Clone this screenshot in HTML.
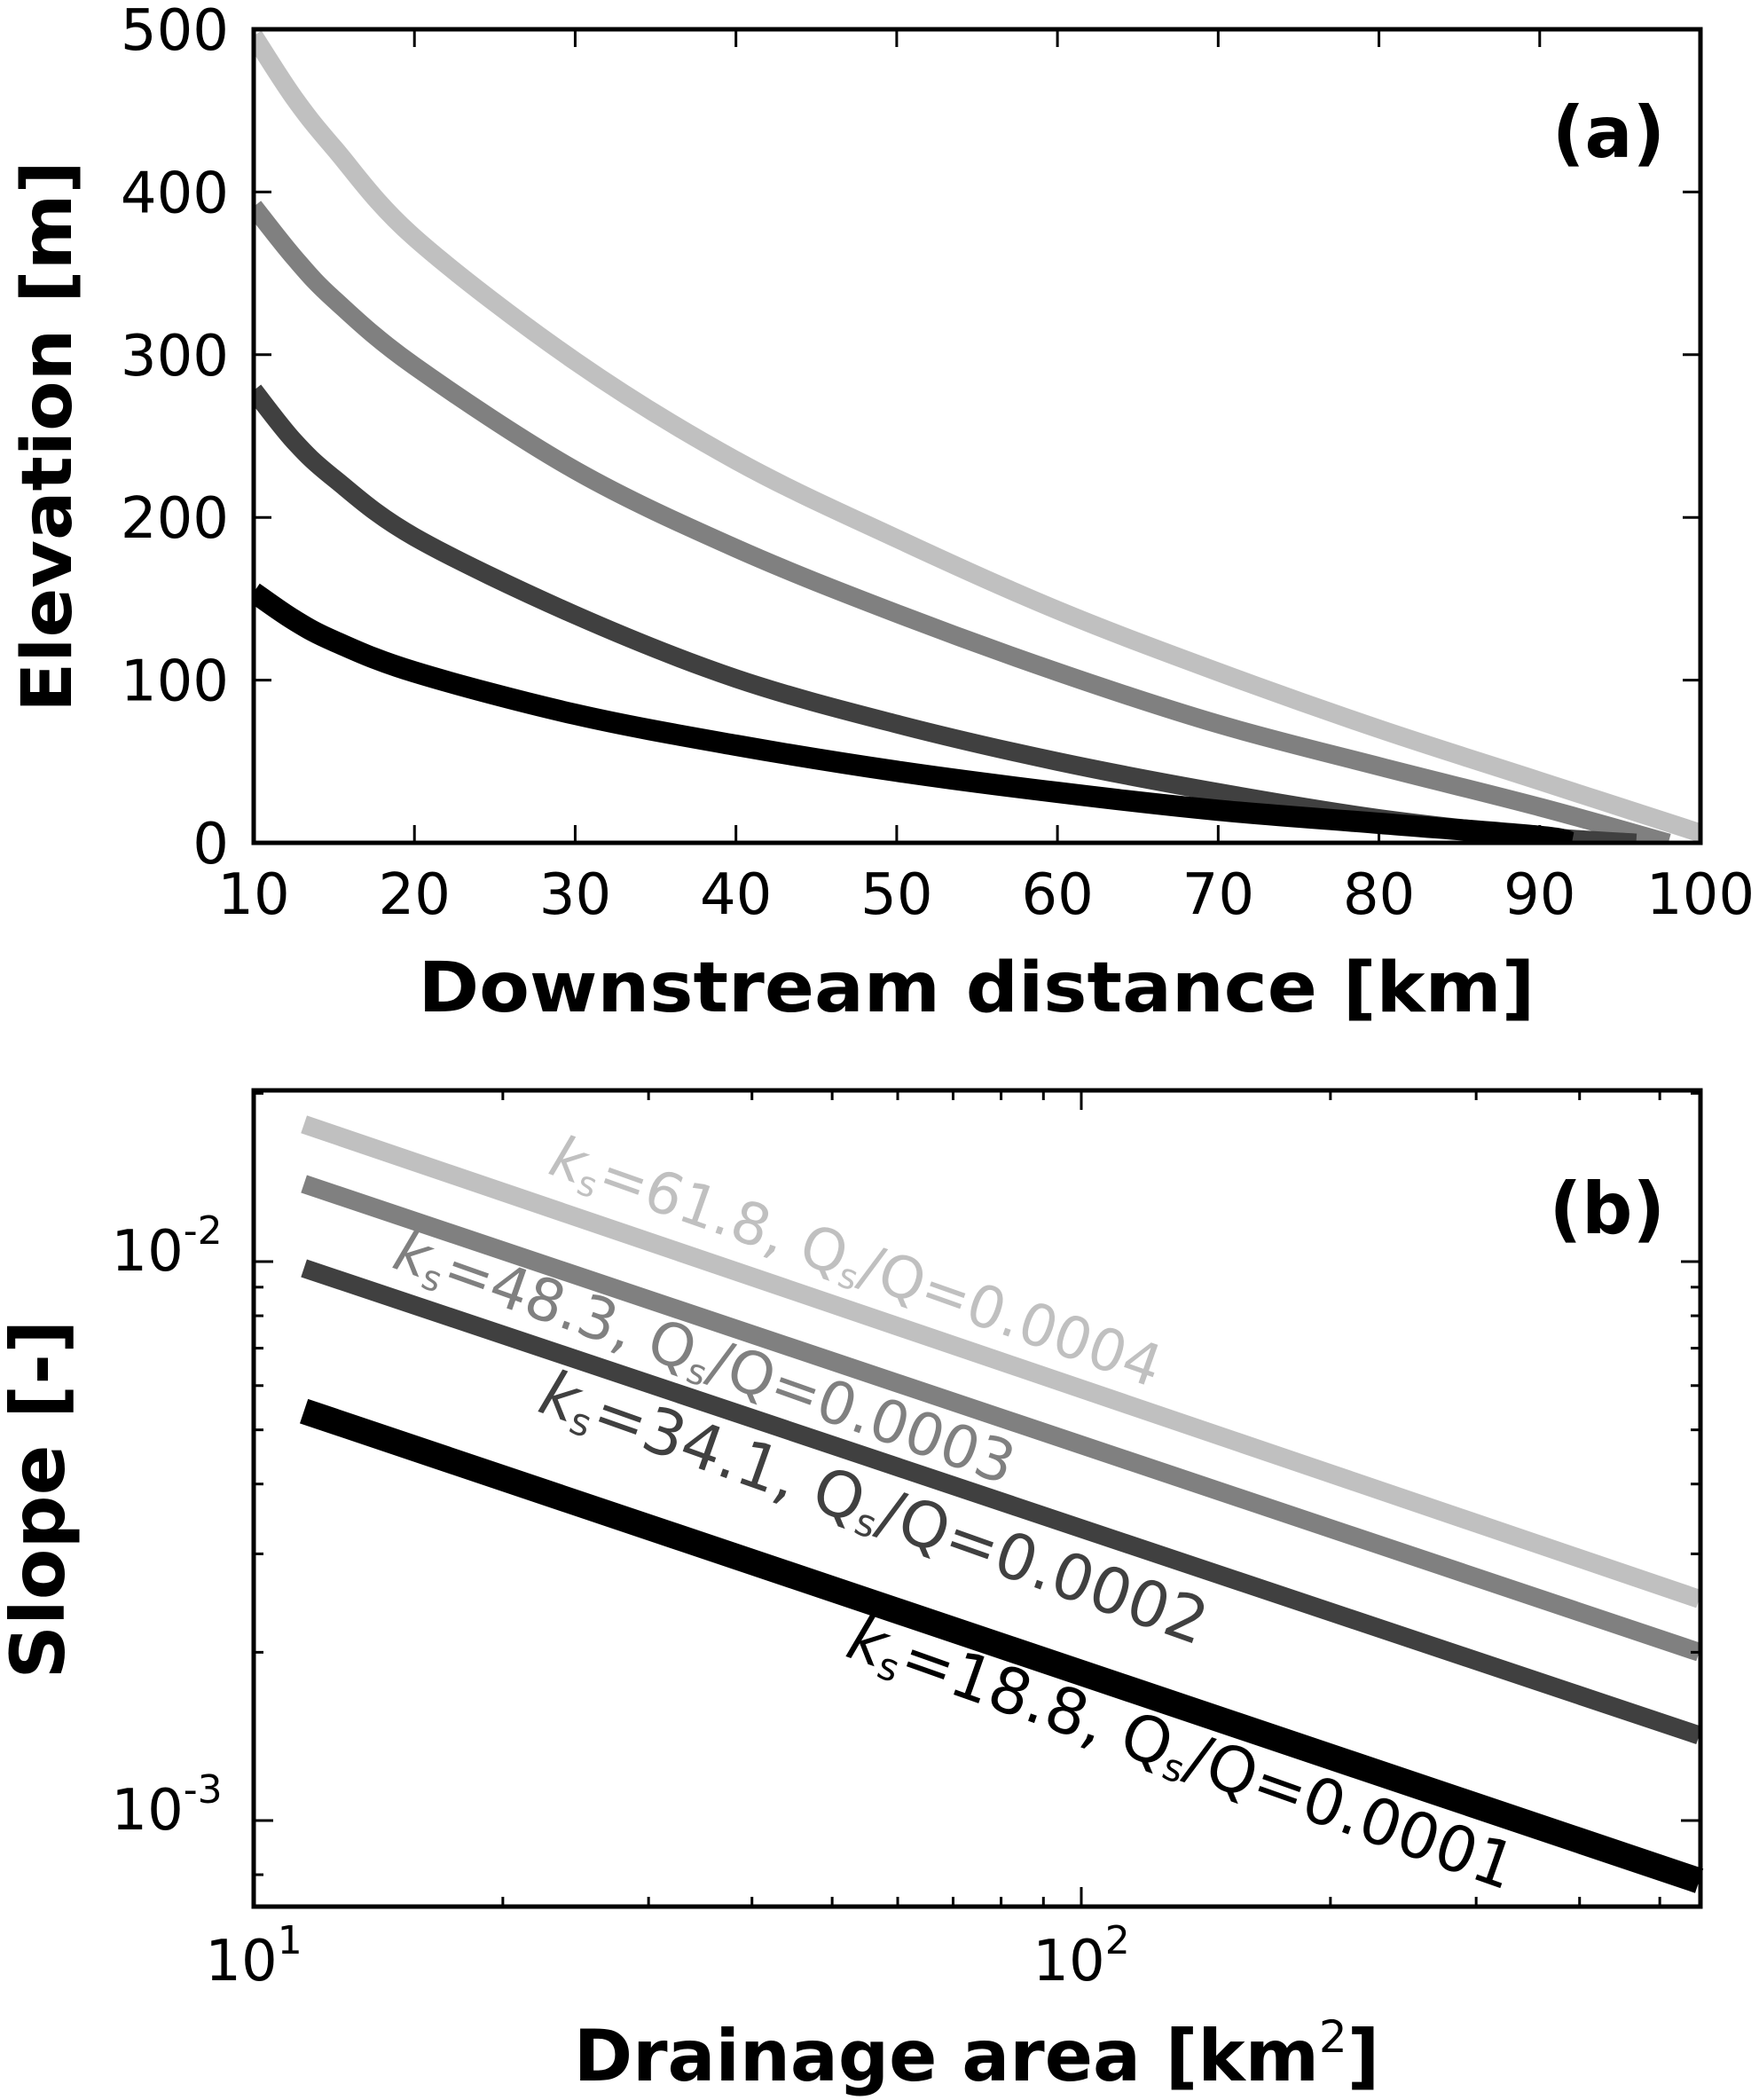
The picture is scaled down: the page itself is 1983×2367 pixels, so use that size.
<!DOCTYPE html>
<html><head><meta charset="utf-8"><style>
html,body{margin:0;padding:0;background:#fff}
svg{display:block}
text{font-family:"DejaVu Sans","Liberation Sans",sans-serif}
</style></head><body>
<svg id="fig" width="1983" height="2367" viewBox="0 0 1983 2367" xmlns="http://www.w3.org/2000/svg">
<g id="pa"></g>
<g id="pb"></g>
</svg>
<script>
// ---------- Panel (a) data ----------
const aXTicks = [10,20,30,40,50,60,70,80,90,100];
const aYTicks = [0,100,200,300,400,500];
const aColors = ["#c0c0c0","#808080","#404040","#000000"];
const aNames = ["profile-qs-0.0004","profile-qs-0.0003","profile-qs-0.0002","profile-qs-0.0001"];
const aX0 = [10,12.5,15,20,30,40,50,60,70,80,90,100];
const aY0 = [496,458,427,372,296,235,187,143,105,70,38,6];
const aX1 = [10,12.5,15,20,30,40,50,60,70,80,90,98];
const aY1 = [391,360,334,293,229,181,141,105,73,47,22,0];
const aX2 = [10,12.5,15,20,30,40,50,60,70,80,90,96];
const aY2 = [278,247,224,188,140,101,73,50,31,15,4,0];
const aX3 = [10,12.5,15,20,30,40,50,60,70,80,90,92];
const aY3 = [154,137,124,105,79,60,44,31,20,12,4,0];

// ---------- Panel (b) data ----------
const bXMajor = [10,100];
const bXMinor = [20,30,40,50,60,70,80,90,200,300,400,500];
const bYMajor = [0.001,0.01];
const bYMinor = [0.0008,0.002,0.003,0.004,0.005,0.006,0.007,0.008,0.009,0.02];
const bAreaStart = [11.5,11.5,11.5,11.5];
const bAreaEnd = [558,558,558,558];
const bSlopeStart = [0.0176,0.01377,0.00973,0.0054];
const bSlopeEnd = [0.00249,0.00200,0.00142,0.00078];
const bKs = ["61.8","48.3","34.1","18.8"];
const bRatio = ["0.0004","0.0003","0.0002","0.0001"];

const NS="http://www.w3.org/2000/svg";
function mk(parent,tag,attrs){const e=document.createElementNS(NS,tag);for(const k in attrs)e.setAttribute(k,attrs[k]);parent.appendChild(e);return e;}
function smooth(pts){
  let d='M'+pts[0][0].toFixed(1)+','+pts[0][1].toFixed(1);
  for(let i=0;i<pts.length-1;i++){
    const p0=pts[Math.max(0,i-1)],p1=pts[i],p2=pts[i+1],p3=pts[Math.min(pts.length-1,i+2)];
    const c1=[p1[0]+(p2[0]-p0[0])/6,p1[1]+(p2[1]-p0[1])/6];
    const c2=[p2[0]-(p3[0]-p1[0])/6,p2[1]-(p3[1]-p1[1])/6];
    d+='C'+c1[0].toFixed(1)+','+c1[1].toFixed(1)+' '+c2[0].toFixed(1)+','+c2[1].toFixed(1)+' '+p2[0].toFixed(1)+','+p2[1].toFixed(1);
  }
  return d;
}

// ===== Panel A =====
const pa=document.getElementById('pa');
const AL=286,AR=1917,AT=33,AB=950;
const ax=v=>AL+(v-10)/90*(AR-AL);
const ay=v=>AB-(v/500)*(AB-AT);
const aXs=[aX0,aX1,aX2,aX3], aYs=[aY0,aY1,aY2,aY3];
const clipA=mk(pa,'clipPath',{id:'clipA'});mk(clipA,'rect',{x:AL,y:AT,width:AR-AL,height:AB-AT});
for(let s=0;s<4;s++){
  const pts=aXs[s].map((x,i)=>[ax(x),ay(aYs[s][i])]);
  const p=mk(pa,'path',{d:smooth(pts),fill:'none',stroke:aColors[s],'stroke-width':s===3?24:21,'stroke-linejoin':'round','clip-path':'url(#clipA)'});
  
  
}
aXTicks.forEach(v=>{
  const x=ax(v);
  mk(pa,'line',{x1:x,y1:AB,x2:x,y2:AB-20,stroke:'#000','stroke-width':3});
  mk(pa,'line',{x1:x,y1:AT,x2:x,y2:AT+20,stroke:'#000','stroke-width':3});
  const t=mk(pa,'text',{x:x,y:1030,'font-size':64,'text-anchor':'middle'});t.textContent=v;
  
  
});
aYTicks.forEach(v=>{
  const y=ay(v);
  mk(pa,'line',{x1:AL,y1:y,x2:AL+20,y2:y,stroke:'#000','stroke-width':3});
  mk(pa,'line',{x1:AR,y1:y,x2:AR-20,y2:y,stroke:'#000','stroke-width':3});
  const t=mk(pa,'text',{x:258,y:y+23,'font-size':64,'text-anchor':'end'});t.textContent=v;
  
  
});
const fa=mk(pa,'rect',{x:AL,y:AT,width:AR-AL,height:AB-AT,fill:'none',stroke:'#000','stroke-width':5});


let t=mk(pa,'text',{x:1101,y:1140,'font-size':78,'font-weight':'bold','text-anchor':'middle',textLength:1259,lengthAdjust:'spacingAndGlyphs'});t.textContent='Downstream distance [km]';


t=mk(pa,'text',{x:0,y:0,'font-size':78,'font-weight':'bold','text-anchor':'middle',transform:'translate(80,492) rotate(-90)',textLength:622,lengthAdjust:'spacingAndGlyphs'});t.textContent='Elevation [m]';


t=mk(pa,'text',{x:1877,y:177,'font-size':80,'font-weight':'bold','text-anchor':'end'});t.textContent='(a)';



// ===== Panel B =====
const pb=document.getElementById('pb');
const BL=286,BR=1917,BT=1229,BB=2149;
const bx=v=>BL+(Math.log10(v)-1)*933;
const by=v=>1422-(Math.log10(v)+2)*630;
for(let s=0;s<4;s++){
  const l=mk(pb,'line',{x1:bx(bAreaStart[s]),y1:by(bSlopeStart[s]),x2:Math.min(bx(bAreaEnd[s]),BR),y2:by(bSlopeEnd[s]),stroke:aColors[s],'stroke-width':s===3?29:21});
  
  
}
bXMajor.forEach(v=>{
  const x=bx(v);
  mk(pb,'line',{x1:x,y1:BB,x2:x,y2:BB-22,stroke:'#000','stroke-width':3});
  mk(pb,'line',{x1:x,y1:BT,x2:x,y2:BT+22,stroke:'#000','stroke-width':3});
  const g=mk(pb,'text',{x:x,y:2232,'font-size':64,'text-anchor':'middle'});
  
  
  const e=Math.round(Math.log10(v));
  g.innerHTML='10<tspan font-size="44" dy="-30">'+e+'</tspan>';
});
bXMinor.forEach(v=>{
  const x=bx(v);
  mk(pb,'line',{x1:x,y1:BB,x2:x,y2:BB-11,stroke:'#000','stroke-width':3});
  mk(pb,'line',{x1:x,y1:BT,x2:x,y2:BT+11,stroke:'#000','stroke-width':3});
});
bYMajor.forEach(v=>{
  const y=by(v);
  mk(pb,'line',{x1:BL,y1:y,x2:BL+22,y2:y,stroke:'#000','stroke-width':3});
  mk(pb,'line',{x1:BR,y1:y,x2:BR-22,y2:y,stroke:'#000','stroke-width':3});
  const g=mk(pb,'text',{x:188,y:y+10,'font-size':64,'text-anchor':'middle'});
  
  
  const e=Math.round(Math.log10(v));
  g.innerHTML='10<tspan font-size="44" dy="-30">'+e+'</tspan>';
});
bYMinor.forEach(v=>{
  const y=by(v);
  if(y<BT||y>BB)return;
  mk(pb,'line',{x1:BL,y1:y,x2:BL+11,y2:y,stroke:'#000','stroke-width':3});
  mk(pb,'line',{x1:BR,y1:y,x2:BR-11,y2:y,stroke:'#000','stroke-width':3});
});
const fb=mk(pb,'rect',{x:BL,y:BT,width:BR-BL,height:BB-BT,fill:'none',stroke:'#000','stroke-width':5});


// line annotations
const labPos=[[616,1322,65],[440,1428,66],[604,1590,71],[951,1866,71]];
for(let s=0;s<4;s++){
  const [x,y,fs]=labPos[s];
  const g=mk(pb,'text',{x:0,y:0,'font-size':fs,fill:aColors[s],transform:'translate('+x+','+y+') rotate(19.5)'});
  
  
  g.innerHTML='<tspan font-style="italic">k</tspan><tspan font-size="'+(fs*0.6)+'" dy="10">s</tspan><tspan dy="-10">='+bKs[s]+', Q</tspan><tspan font-size="'+(fs*0.6)+'" dy="10">s</tspan><tspan dy="-10">/Q='+bRatio[s]+'</tspan>';
}
t=mk(pb,'text',{x:1101,y:2345,'font-size':80,'font-weight':'bold','text-anchor':'middle'});
t.innerHTML='Drainage area [km<tspan font-size="50" dy="-32" font-weight="normal">2</tspan><tspan dy="32">]</tspan>';


t=mk(pb,'text',{x:0,y:0,'font-size':84,'font-weight':'bold','text-anchor':'middle',transform:'translate(72,1690) rotate(-90)'});t.textContent='Slope [-]';


t=mk(pb,'text',{x:1877,y:1390,'font-size':80,'font-weight':'bold','text-anchor':'end'});t.textContent='(b)';


</script>
</body></html>
